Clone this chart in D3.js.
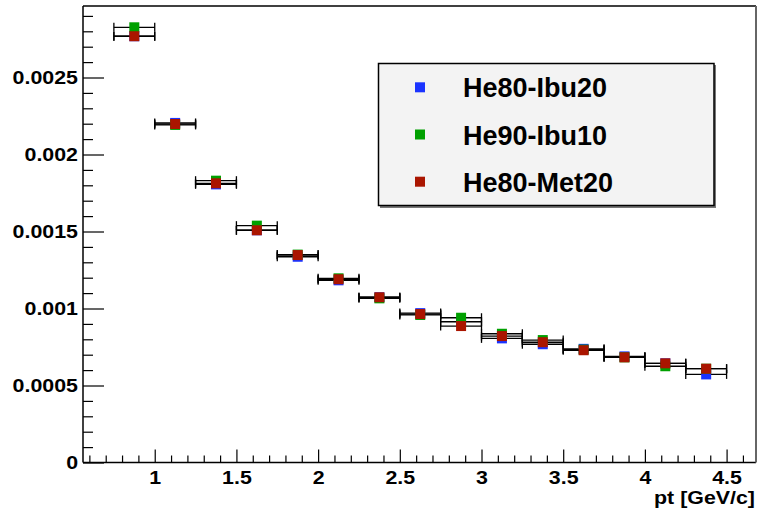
<!DOCTYPE html>
<html>
<head>
<meta charset="utf-8">
<script src="https://cdn.jsdelivr.net/npm/d3@7"></script>
<style>
  html, body { margin: 0; padding: 0; background: #ffffff; }
  svg { display: block; }
  text { font-family: "Liberation Sans", Arial, Helvetica, sans-serif; font-weight: bold; }
</style>
</head>
<body>
<svg id="chart" width="758" height="514"></svg>
<script>
// ---- data ----
const binCenters = [0.875, 1.125, 1.375, 1.625, 1.875, 2.125, 2.375, 2.625, 2.875, 3.125, 3.375, 3.625, 3.875, 4.125, 4.375];
const binHalfWidth = 0.125;
const seriesNames = ["He80-Ibu20", "He90-Ibu10", "He80-Met20"];
const he80Ibu20 = [0.002768, 0.002205, 0.001806, 0.001508, 0.001336, 0.001183, 0.001073, 0.000970, 0.000914, 0.000806, 0.000768, 0.000738, 0.000689, 0.000644, 0.000572];
const he90Ibu10 = [0.002826, 0.002192, 0.001830, 0.001538, 0.001350, 0.001196, 0.001066, 0.000958, 0.000940, 0.000836, 0.000795, 0.000733, 0.000683, 0.000625, 0.000609];
const he80Met20 = [0.002768, 0.002198, 0.001813, 0.001508, 0.001347, 0.001190, 0.001073, 0.000964, 0.000886, 0.000821, 0.000781, 0.000729, 0.000683, 0.000644, 0.000609];
const seriesColors = ["#1a33ff", "#00a000", "#aa1500"];
const yTickValues = [0, 0.0005, 0.001, 0.0015, 0.002, 0.0025];
const yTickLabels = ["0", "0.0005", "0.001", "0.0015", "0.002", "0.0025"];
const xTickValues = [1, 1.5, 2, 2.5, 3, 3.5, 4, 4.5];
const xTickLabels = ["1", "1.5", "2", "2.5", "3", "3.5", "4", "4.5"];
const xTitle = "pt [GeV/c]";

// ---- layout ----
const L = 83, R = 756, T = 6, B = 462.5;
const svg = d3.select("#chart");
const x = d3.scaleLinear().domain([0.561, 4.680]).range([L, R]);
const y = d3.scaleLinear().domain([0, 0.0029643]).range([B, T]);

const fontTick = 18.6, stretch = 1.15;

// minor ticks
const xMinor = d3.range(6, 47).map(d => d / 10).filter(d => xTickValues.indexOf(d) < 0);
const yMinor = d3.range(1, 30).map(d => d / 10000).filter(d => Math.abs(d * 2000 - Math.round(d * 2000)) > 1e-6);

const gx = svg.append("g").attr("transform", `translate(0,${B})`);
gx.append("g").call(d3.axisBottom(x).tickValues(xMinor).tickSizeInner(-7).tickSizeOuter(0).tickFormat(""));
gx.append("g").call(d3.axisBottom(x).tickValues(xTickValues).tickSizeInner(-13).tickSizeOuter(0).tickPadding(8)
  .tickFormat((d, i) => xTickLabels[i]));
gx.selectAll(".domain").remove();
gx.selectAll("line").attr("stroke", "#000").attr("stroke-width", 1.2);
gx.selectAll("text").attr("font-size", fontTick).attr("fill", "#000")
  .attr("font-family", '"Liberation Sans", Arial, sans-serif').attr("font-weight", "bold")
  .attr("transform", `scale(${stretch},1)`);

const gy = svg.append("g").attr("transform", `translate(${L},0)`);
gy.append("g").call(d3.axisLeft(y).tickValues(yMinor).tickSizeInner(-10).tickSizeOuter(0).tickFormat(""));
gy.append("g").call(d3.axisLeft(y).tickValues(yTickValues).tickSizeInner(-21).tickSizeOuter(0).tickPadding(5)
  .tickFormat((d, i) => yTickLabels[i]));
gy.selectAll(".domain").remove();
gy.selectAll("line").attr("stroke", "#000").attr("stroke-width", 1.2);
gy.selectAll("text").attr("font-size", fontTick).attr("fill", "#000")
  .attr("font-family", '"Liberation Sans", Arial, sans-serif').attr("font-weight", "bold")
  .attr("x", -5 / stretch).attr("transform", `scale(${stretch},1)`);

// frame
svg.append("line").attr("x1", L).attr("x2", R).attr("y1", T).attr("y2", T).attr("stroke", "#000").attr("stroke-width", 1.5);
svg.append("line").attr("x1", L).attr("x2", L).attr("y1", T).attr("y2", B).attr("stroke", "#000").attr("stroke-width", 1.5);
svg.append("line").attr("x1", L).attr("x2", R).attr("y1", B).attr("y2", B).attr("stroke", "#000").attr("stroke-width", 1.5);
svg.append("line").attr("x1", R).attr("x2", R).attr("y1", T).attr("y2", B).attr("stroke", "#666").attr("stroke-width", 2);

// axis title
svg.append("text").attr("transform", `translate(755,503.5) scale(${stretch},1)`)
  .attr("text-anchor", "end").attr("font-size", fontTick).attr("fill", "#000").text(xTitle);

// series
const seriesValues = [he80Ibu20, he90Ibu10, he80Met20];
const msize = 10, cap = 4.5;
seriesValues.forEach((vals, si) => {
  const g = svg.append("g");
  const pts = binCenters.map((c, i) => ({ c, v: vals[i] }));
  g.selectAll("line.h").data(pts).enter().append("line")
    .attr("x1", d => x(d.c - binHalfWidth)).attr("x2", d => x(d.c + binHalfWidth))
    .attr("y1", d => y(d.v)).attr("y2", d => y(d.v))
    .attr("stroke", "#000").attr("stroke-width", 1.3);
  [-1, 1].forEach(s => {
    g.selectAll(null).data(pts).enter().append("line")
      .attr("x1", d => x(d.c + s * binHalfWidth)).attr("x2", d => x(d.c + s * binHalfWidth))
      .attr("y1", d => y(d.v) - cap).attr("y2", d => y(d.v) + cap)
      .attr("stroke", "#000").attr("stroke-width", 1.3);
  });
  g.selectAll("rect").data(pts).enter().append("rect")
    .attr("x", d => x(d.c) - msize / 2).attr("y", d => y(d.v) - msize / 2)
    .attr("width", msize).attr("height", msize).attr("fill", seriesColors[si]);
});

// legend
const lg = svg.append("g");
lg.append("rect").attr("x", 380).attr("y", 65).attr("width", 336).attr("height", 143).attr("fill", "#777");
lg.append("rect").attr("x", 378.5).attr("y", 63.5).attr("width", 335.5).attr("height", 142).attr("fill", "#f3f3f3")
  .attr("stroke", "#000").attr("stroke-width", 1.5);
const legY = [87.3, 134.5, 181.7];
seriesNames.forEach((n, i) => {
  lg.append("rect").attr("x", 420 - 5).attr("y", legY[i] - 5).attr("width", 10).attr("height", 10).attr("fill", seriesColors[i]);
  lg.append("text").attr("x", 463).attr("y", legY[i] + 10).attr("font-size", 27).attr("fill", "#000").text(n);
});
</script>
</body>
</html>
